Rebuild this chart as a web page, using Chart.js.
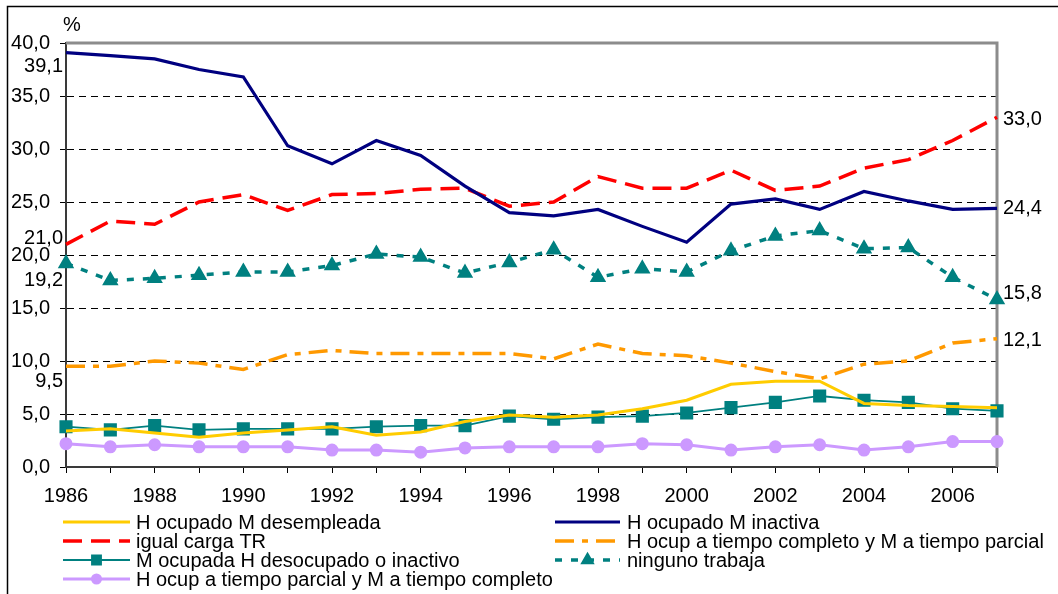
<!DOCTYPE html>
<html>
<head>
<meta charset="utf-8">
<script src="https://cdn.jsdelivr.net/npm/chart.js@4/dist/chart.umd.min.js"></script>
<style>
  html,body{margin:0;padding:0;background:#fff;}
  canvas{display:block;}
</style>
</head>
<body>
<canvas id="c" width="1058" height="594"></canvas>
<script>
const years = ['1986','1987','1988','1989','1990','1991','1992','1993','1994','1995','1996','1997','1998','1999','2000','2001','2002','2003','2004','2005','2006','2007'];
const yTicks = [0,5,10,15,20,25,30,35,40];

const hOcupadoMDesempleada = [3.4,3.6,3.2,2.8,3.2,3.5,3.8,3.0,3.3,4.3,4.9,4.7,4.9,5.5,6.3,7.8,8.1,8.1,6.0,5.8,5.7,5.6];
const hOcupadoMInactiva    = [39.1,38.8,38.5,37.5,36.8,30.3,28.6,30.8,29.4,26.5,24.0,23.7,24.3,22.7,21.2,24.8,25.3,24.3,26.0,25.1,24.3,24.4];
const igualCargaTR         = [21.0,23.2,22.9,25.0,25.7,24.2,25.7,25.8,26.2,26.3,24.6,25.0,27.4,26.3,26.3,28.0,26.1,26.5,28.2,29.0,30.8,33.0];
const hCompletoMParcial    = [9.5,9.5,10.0,9.8,9.2,10.6,11.0,10.7,10.7,10.7,10.7,10.2,11.6,10.7,10.5,9.8,9.0,8.3,9.7,10.0,11.7,12.1];
const mOcupadaHDesocupado  = [3.8,3.5,3.9,3.5,3.6,3.6,3.6,3.8,3.9,3.9,4.8,4.5,4.7,4.8,5.1,5.6,6.1,6.7,6.3,6.1,5.5,5.3];
const ningunoTrabaja       = [19.2,17.6,17.8,18.1,18.4,18.4,19.0,20.1,19.8,18.3,19.3,20.5,17.9,18.7,18.4,20.4,21.8,22.3,20.6,20.7,17.9,15.8];
const hParcialMCompleto    = [2.2,1.9,2.1,1.9,1.9,1.9,1.6,1.6,1.4,1.8,1.9,1.9,1.9,2.2,2.1,1.6,1.9,2.1,1.6,1.9,2.4,2.4];

const seriesNames = [
  'H ocupado M desempleada',
  'H ocupado M inactiva',
  'igual carga TR',
  'H ocup a tiempo completo y M a tiempo parcial',
  'M ocupada H desocupado o inactivo',
  'ninguno trabaja',
  'H ocup a tiempo parcial y M a tiempo completo'
];

const fmt = v => v.toFixed(1).replace('.', ',');
const FONT = 'Liberation Sans, Arial, sans-serif';
const FSIZE = 20;

// end-point value labels: [datasetIndex, pointIndex, side, dy]
const endLabels = [
  [1, 0, 'left', 14],
  [2, 0, 'left', -6],
  [5, 0, 'left', 17],
  [3, 0, 'left', 15],
  [2, 21, 'right', 2],
  [1, 21, 'right', 0],
  [5, 21, 'right', -6],
  [3, 21, 'right', 2]
];

const valueLabelPlugin = {
  id: 'valueLabels',
  afterDatasetsDraw(chart) {
    const ctx = chart.ctx;
    const xs = chart.scales.x, ys = chart.scales.y;
    ctx.save();
    ctx.font = FSIZE + 'px ' + FONT;
    ctx.fillStyle = '#000';
    ctx.textBaseline = 'middle';
    endLabels.forEach(([di, pi, side, dy]) => {
      const v = chart.data.datasets[di].data[pi];
      const x = xs.getPixelForValue(pi);
      const y = ys.getPixelForValue(v) + dy;
      if (side === 'left') { ctx.textAlign = 'right'; ctx.fillText(fmt(v), x - 3, y); }
      else { ctx.textAlign = 'left'; ctx.fillText(fmt(v), x + 6, y); }
    });
    ctx.restore();
  }
};

const framePlugin = {
  id: 'frame',
  beforeDatasetsDraw(chart) {
    const {ctx, chartArea: a} = chart;
    ctx.save();
    ctx.strokeStyle = '#8c8c8c';
    ctx.lineWidth = 3;
    ctx.beginPath();
    ctx.moveTo(a.left, a.top);
    ctx.lineTo(a.right, a.top);
    ctx.lineTo(a.right, a.bottom);
    ctx.stroke();
    ctx.restore();
  },
  afterDraw(chart) {
    const ctx = chart.ctx;
    ctx.save();
    ctx.strokeStyle = '#000';
    ctx.lineWidth = 1.5;
    ctx.beginPath();
    ctx.moveTo(7.5, 600);
    ctx.lineTo(7.5, 6.5);
    ctx.lineTo(1060, 6.5);
    ctx.stroke();
    ctx.font = FSIZE + 'px ' + FONT;
    ctx.fillStyle = '#000';
    ctx.textAlign = 'left';
    ctx.textBaseline = 'middle';
    ctx.fillText('%', chart.chartArea.left - 3, 25);
    ctx.restore();
  }
};

const legendPlugin = {
  id: 'customLegend',
  afterDraw(chart) {
    const ctx = chart.ctx;
    const cols = [{x0: 63, x1: 130, tx: 136}, {x0: 555, x1: 620, tx: 627}];
    const rows = [522, 541, 560, 579];
    ctx.save();
    ctx.font = FSIZE + 'px ' + FONT;
    ctx.fillStyle = '#000';
    ctx.textBaseline = 'middle';
    ctx.textAlign = 'left';
    chart.data.datasets.forEach((ds, i) => {
      const c = cols[i % 2];
      const y = rows[Math.floor(i / 2)];
      ctx.save();
      ctx.strokeStyle = ds.borderColor;
      ctx.lineWidth = ds.borderWidth;
      ctx.setLineDash(ds.borderDash || []);
      ctx.beginPath();
      ctx.moveTo(c.x0, y);
      ctx.lineTo(c.x1, y);
      ctx.stroke();
      ctx.setLineDash([]);
      if (ds.pointRadius > 0) {
        ctx.fillStyle = ds.pointBackgroundColor;
        ctx.strokeStyle = ds.pointBorderColor;
        Chart.helpers.drawPoint(ctx, {pointStyle: ds.pointStyle, radius: ds.pointRadius * 0.8, rotation: 0, borderWidth: 1}, (c.x0 + c.x1) / 2, y);
      }
      ctx.restore();
      ctx.fillText(ds.label, c.tx, y + 1);
    });
    ctx.restore();
  }
};

const datasets = [
  {label: seriesNames[0], data: hOcupadoMDesempleada, borderColor: '#FFCC00', borderWidth: 3, pointRadius: 0},
  {label: seriesNames[1], data: hOcupadoMInactiva, borderColor: '#000080', borderWidth: 3.2, pointRadius: 0},
  {label: seriesNames[2], data: igualCargaTR, borderColor: '#FF0000', borderWidth: 3.5, borderDash: [19, 9], pointRadius: 0},
  {label: seriesNames[3], data: hCompletoMParcial, borderColor: '#FF9900', borderWidth: 3.5, borderDash: [19, 8, 6, 8], pointRadius: 0},
  {label: seriesNames[4], data: mOcupadaHDesocupado, borderColor: '#008080', borderWidth: 1.8, pointStyle: 'rect', pointRadius: 8, pointBackgroundColor: '#008080', pointBorderColor: '#008080'},
  {label: seriesNames[5], data: ningunoTrabaja, borderColor: '#008080', borderWidth: 3.5, borderDash: [7, 9], pointStyle: 'triangle', pointRadius: 6, pointBackgroundColor: '#008080', pointBorderColor: '#008080'},
  {label: seriesNames[6], data: hParcialMCompleto, borderColor: '#CC99FF', borderWidth: 3, pointStyle: 'circle', pointRadius: 5, pointBackgroundColor: '#CC99FF', pointBorderColor: '#CC99FF'}
].map(d => Object.assign({fill: false, tension: 0, pointHoverRadius: d.pointRadius}, d));

new Chart(document.getElementById('c'), {
  type: 'line',
  data: {labels: years, datasets: datasets},
  options: {
    responsive: false,
    animation: false,
    events: [],
    layout: {padding: {left: 0, top: 43, right: 61, bottom: 87}},
    plugins: {legend: {display: false}, tooltip: {enabled: false}},
    scales: {
      x: {
        type: 'category',
        offset: false,
        grid: {drawOnChartArea: false, drawTicks: true, tickLength: 6, tickColor: '#000', tickWidth: 1},
        border: {color: '#3a3a3a', width: 2},
        ticks: {
          autoSkip: false, maxRotation: 0, minRotation: 0, padding: 11,
          color: '#000', font: {family: FONT, size: FSIZE},
          callback: (v, i) => (i % 2 === 0 ? years[i] : '')
        },
        afterFit: s => { s.height = 40; }
      },
      y: {
        min: 0, max: 40,
        afterBuildTicks: s => { s.ticks = yTicks.map(v => ({value: v})); },
        grid: {
          color: c => (c.tick && (c.tick.value === 0 || c.tick.value === 40) ? 'rgba(0,0,0,0)' : '#000'),
          lineWidth: 1, drawTicks: true, tickLength: 6, tickColor: '#000', tickWidth: 1, tickBorderDash: []
        },
        border: {color: '#3a3a3a', width: 2, dash: [7, 5]},
        ticks: {color: '#000', font: {family: FONT, size: FSIZE}, padding: 10, callback: v => fmt(v)},
        afterFit: s => { s.width = 66; }
      }
    }
  },
  plugins: [framePlugin, valueLabelPlugin, legendPlugin]
});
</script>
</body>
</html>
